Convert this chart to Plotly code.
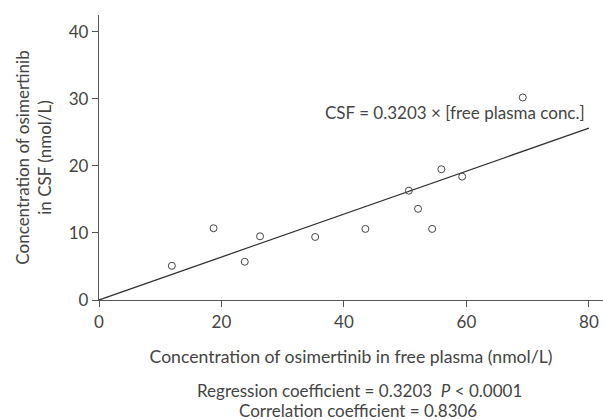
import plotly.graph_objects as go

plasma = [11.9, 18.7, 23.8, 26.3, 35.3, 43.5, 50.6, 52.1, 54.4, 55.9, 59.3, 69.2]
csf = [5.1, 10.7, 5.7, 9.5, 9.4, 10.6, 16.3, 13.6, 10.6, 19.5, 18.4, 30.2]
slope = 0.3203
line_x = [0, 80]
x_ticks = [0, 20, 40, 60, 80]
y_ticks = [0, 10, 20, 30, 40]

FONT = "Lato, Open Sans, sans-serif"
GREY = "#444444"
AX = "#555555"

fig = go.Figure()
fig.add_trace(go.Scatter(
    x=line_x, y=[slope * v for v in line_x], mode="lines",
    line=dict(color="#333333", width=1.3), showlegend=False, hoverinfo="skip"))
fig.add_trace(go.Scatter(
    x=plasma, y=csf, mode="markers",
    marker=dict(symbol="circle-open", size=7, color="#444444", line=dict(width=1)),
    showlegend=False))

fig.add_annotation(x=79.7, y=27.9, xref="x", yref="y", xanchor="right", yanchor="middle",
                   text="CSF = 0.3203 × [free plasma conc.]", showarrow=False,
                   font=dict(size=17, color=GREY, family=FONT))
fig.add_annotation(x=0.516, y=-0.316, xref="paper", yref="paper", xanchor="center", yanchor="middle",
                   text="Regression coefficient = 0.3203  <i>P</i> < 0.0001",
                   showarrow=False, font=dict(size=17, color=GREY, family=FONT))
fig.add_annotation(x=0.513, y=-0.389, xref="paper", yref="paper", xanchor="center", yanchor="middle",
                   text="Correlation coefficient = 0.8306",
                   showarrow=False, font=dict(size=17, color=GREY, family=FONT))

fig.update_layout(
    width=603, height=420,
    margin=dict(l=99, r=0, t=15, b=120),
    plot_bgcolor="white", paper_bgcolor="white",
    font=dict(family=FONT, color=GREY, size=17),
    xaxis=dict(range=[0, 82.3], tickvals=x_ticks, showgrid=False, zeroline=False,
               showline=True, linecolor=AX, linewidth=1.3, ticks="outside", ticklen=6,
               tickcolor=AX, tickfont=dict(size=17, color=GREY),
               title=dict(text="Concentration of osimertinib in free plasma (nmol/L)",
                          font=dict(size=17.6, color=GREY), standoff=20)),
    yaxis=dict(range=[0, 42.5], tickvals=y_ticks, showgrid=False, zeroline=False,
               showline=True, linecolor=AX, linewidth=1.3, ticks="outside", ticklen=6,
               tickcolor=AX, tickfont=dict(size=17, color=GREY),
               title=dict(text="Concentration of osimertinib<br>in CSF (nmol/L)",
                          font=dict(size=17, color=GREY), standoff=12)),
)
fig.write_html("out.html")
